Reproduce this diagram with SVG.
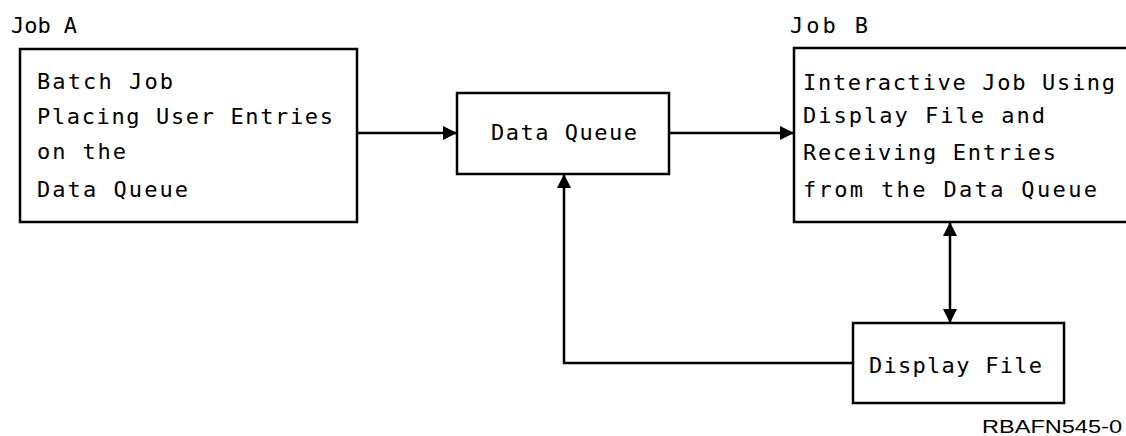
<svg xmlns="http://www.w3.org/2000/svg" width="1126" height="436" viewBox="0 0 1126 436">
<style>
.box{fill:#fff;stroke:#000;stroke-width:2.5}
.t{font-family:"DejaVu Sans Mono","Liberation Mono",monospace;font-size:22px;fill:#000}
.ln{fill:none;stroke:#000;stroke-width:2.5}
.id{font-family:"Liberation Sans",Arial,sans-serif;font-size:19px;fill:#000}
</style>
<defs>
<marker id="ah" viewBox="0 0 14 16" refX="14" refY="8" markerWidth="14" markerHeight="16" markerUnits="userSpaceOnUse" orient="auto-start-reverse">
<path d="M0,1 L14,8 L0,15 Z" fill="#000"/>
</marker>
</defs>
<text class="t" x="11" y="33" textLength="66" lengthAdjust="spacing">Job A</text>
<text class="t" x="790" y="33" textLength="78" lengthAdjust="spacing">Job B</text>
<g id="batchJob">
<rect class="box" x="20" y="49" width="337" height="173"/>
<text class="t" x="37" y="89" textLength="136" lengthAdjust="spacing">Batch Job</text>
<text class="t" x="37" y="124" textLength="296" lengthAdjust="spacing">Placing User Entries</text>
<text class="t" x="37" y="159" textLength="89" lengthAdjust="spacing">on the</text>
<text class="t" x="37" y="197" textLength="151" lengthAdjust="spacing">Data Queue</text>
</g>
<g id="dataQueue">
<rect class="box" x="457" y="93" width="212" height="81"/>
<text class="t" x="491" y="140" textLength="146" lengthAdjust="spacing">Data Queue</text>
</g>
<g id="interactiveJob">
<rect class="box" x="794" y="48" width="340" height="174"/>
<text class="t" x="803" y="90" textLength="312" lengthAdjust="spacing">Interactive Job Using</text>
<text class="t" x="803" y="123" textLength="242" lengthAdjust="spacing">Display File and</text>
<text class="t" x="803" y="160" textLength="253" lengthAdjust="spacing">Receiving Entries</text>
<text class="t" x="803" y="197" textLength="294" lengthAdjust="spacing">from the Data Queue</text>
</g>
<g id="displayFile">
<rect class="box" x="853" y="323" width="211" height="80"/>
<text class="t" x="869" y="373" textLength="173" lengthAdjust="spacing">Display File</text>
</g>
<g id="connectors">
<line class="ln" x1="357" y1="133" x2="457" y2="133" marker-end="url(#ah)"/>
<line class="ln" x1="669" y1="133" x2="794" y2="133" marker-end="url(#ah)"/>
<polyline class="ln" points="853,363 564,363 564,174" marker-end="url(#ah)"/>
<line class="ln" x1="950" y1="222" x2="950" y2="323" marker-start="url(#ah)" marker-end="url(#ah)"/>
</g>
<text class="id" x="982" y="433" textLength="140" lengthAdjust="spacingAndGlyphs">RBAFN545-0</text>
</svg>
